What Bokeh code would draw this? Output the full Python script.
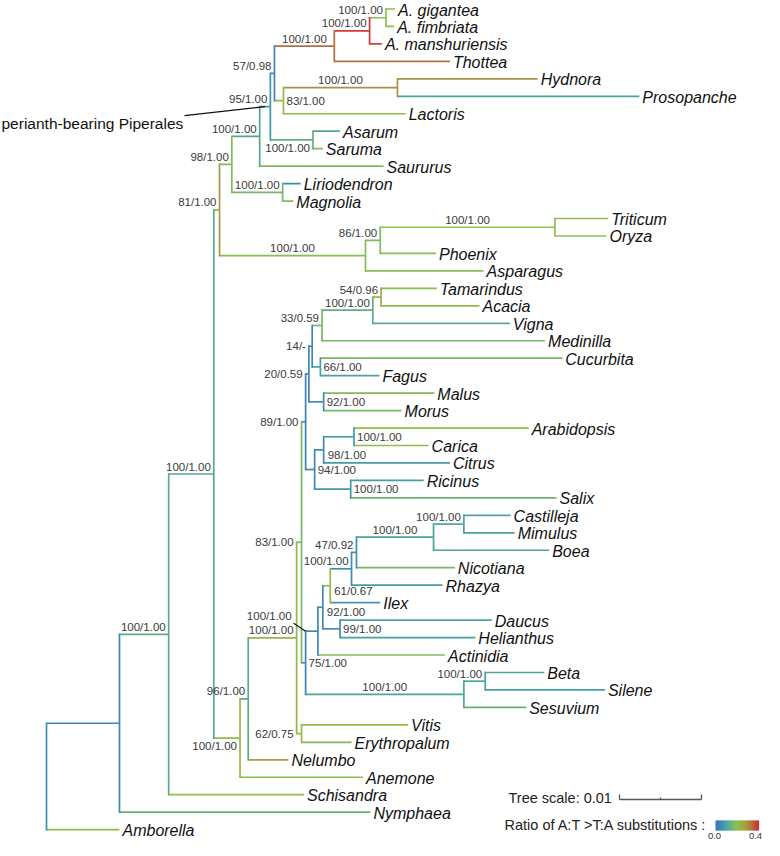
import numpy as np
from bokeh.plotting import figure
from bokeh.models import Range1d, ColumnDataSource
from bokeh.transform import linear_cmap
from bokeh.core.properties import value
from bokeh.embed import file_html
from bokeh.resources import INLINE

# ---------------- data: tree topology (pre-order, upper child first) ----------------
node = [
    "root", "nA", "nB", "nC", "nD", "nF", "nG", "nH", "nI", "nJ", "nK", "nL",
    "A. gigantea", "A. fimbriata", "A. manshuriensis", "Thottea",
    "nM", "nHyd", "Hydnora", "Prosopanche", "Lactoris",
    "nAS", "Asarum", "Saruma", "Saururus",
    "nMag", "Liriodendron", "Magnolia",
    "nN", "nO", "nP", "Triticum", "Oryza", "Phoenix", "Asparagus",
    "nE", "nQ", "nR", "nS", "nX", "nBB", "nZ", "nY", "nHH", "nII", "Tamarindus", "Acacia", "Vigna", "Medinilla",
    "nAA", "Cucurbita", "Fagus",
    "nCC", "Malus", "Morus",
    "nDD", "nEE", "nFF", "Arabidopsis", "Carica", "Citrus",
    "nGG", "Ricinus", "Salix",
    "nU", "nV", "nW", "nJJ", "nKK", "nLL", "nMM", "nNN", "Castilleja", "Mimulus", "Boea", "Nicotiana", "Rhazya", "Ilex",
    "nOO", "Daucus", "Helianthus", "Actinidia",
    "nPP", "nQQ", "Beta", "Silene", "Sesuvium",
    "nT", "Vitis", "Erythropalum",
    "Nelumbo", "Anemone", "Schisandra", "Nymphaea", "Amborella"]

parent = [
    None, "root", "nA", "nB", "nC", "nD", "nF", "nG", "nH", "nI", "nJ", "nK",
    "nL", "nL", "nK", "nJ",
    "nI", "nM", "nHyd", "nHyd", "nM",
    "nH", "nAS", "nAS", "nG",
    "nF", "nMag", "nMag",
    "nD", "nN", "nO", "nP", "nP", "nO", "nN",
    "nC", "nE", "nQ", "nR", "nS", "nX", "nBB", "nZ", "nY", "nHH", "nII", "nII", "nHH", "nY",
    "nZ", "nAA", "nAA",
    "nBB", "nCC", "nCC",
    "nX", "nDD", "nEE", "nFF", "nFF", "nEE",
    "nDD", "nGG", "nGG",
    "nS", "nU", "nV", "nW", "nJJ", "nKK", "nLL", "nMM", "nNN", "nNN", "nMM", "nLL", "nKK", "nJJ",
    "nW", "nOO", "nOO", "nV",
    "nU", "nPP", "nQQ", "nQQ", "nPP",
    "nR", "nT", "nT",
    "nQ", "nE", "nB", "nA", "root"]

# branch lengths (substitutions per site)
length = [
    0.0, 0.0089, 0.0060, 0.0055, 0.0007, 0.0015, 0.0034, 0.0013, 0.0005, 0.0073, 0.0043, 0.0020,
    0.0011, 0.0010, 0.0015, 0.0141,
    0.0011, 0.0139, 0.0171, 0.0295, 0.0149,
    0.0052, 0.0033, 0.0012, 0.0151,
    0.0062, 0.0022, 0.0013,
    0.0178, 0.0018, 0.0213, 0.0065, 0.0063, 0.0068, 0.0144,
    0.0032, 0.0010, 0.0059, 0.0006, 0.0005, 0.0004, 0.0004, 0.0012, 0.0062, 0.0010, 0.0068, 0.0120, 0.0167, 0.0272,
    0.0010, 0.0295, 0.0072,
    0.0018, 0.0135, 0.0095,
    0.0011, 0.0011, 0.0037, 0.0213, 0.0091, 0.0154,
    0.0044, 0.0089, 0.0251,
    0.0005, 0.0015, 0.0006, 0.0009, 0.0026, 0.0006, 0.0094, 0.0037, 0.0057, 0.0062, 0.0141, 0.0120, 0.0111, 0.0061,
    0.0021, 0.0185, 0.0165, 0.0155,
    0.0193, 0.0026, 0.0072, 0.0146, 0.0076,
    0.0006, 0.0130, 0.0061,
    0.0049, 0.0150, 0.0165, 0.0306, 0.0089]

# bootstrap / posterior support
support = [
    "", "", "100/1.00", "100/1.00", "81/1.00", "98/1.00", "100/1.00", "95/1.00", "57/0.98", "100/1.00", "100/1.00", "100/1.00",
    "", "", "", "",
    "83/1.00", "100/1.00", "", "", "",
    "100/1.00", "", "", "",
    "100/1.00", "", "",
    "100/1.00", "86/1.00", "100/1.00", "", "", "", "",
    "100/1.00", "96/1.00", "100/1.00", "83/1.00", "89/1.00", "20/0.59", "14/-", "33/0.59", "100/1.00", "54/0.96", "", "", "", "",
    "66/1.00", "", "",
    "92/1.00", "", "",
    "94/1.00", "98/1.00", "100/1.00", "", "", "",
    "100/1.00", "", "",
    "75/1.00", "100/1.00", "92/1.00", "61/0.67", "100/1.00", "47/0.92", "100/1.00", "100/1.00", "", "", "", "", "", "",
    "99/1.00", "", "", "",
    "100/1.00", "100/1.00", "", "", "",
    "62/0.75", "", "",
    "", "", "", "", ""]

# ratio of A:T > T:A substitutions per branch
ratio = [
    0.06, 0.04, 0.13, 0.12, 0.29, 0.18, 0.12, 0.08, 0.04, 0.34, 0.39, 0.20,
    0.19, 0.20, 0.38, 0.34,
    0.22, 0.30, 0.30, 0.11, 0.21,
    0.14, 0.12, 0.19, 0.18,
    0.17, 0.05, 0.19,
    0.19, 0.18, 0.20, 0.20, 0.20, 0.19, 0.19,
    0.22, 0.13, 0.23, 0.17, 0.03, 0.04, 0.04, 0.17, 0.14, 0.25, 0.19, 0.22, 0.13, 0.17,
    0.10, 0.17, 0.11,
    0.05, 0.18, 0.17,
    0.04, 0.05, 0.10, 0.21, 0.21, 0.09,
    0.08, 0.10, 0.16,
    0.03, 0.04, 0.05, 0.21, 0.05, 0.06, 0.11, 0.11, 0.11, 0.11, 0.11, 0.17, 0.09, 0.08,
    0.05, 0.11, 0.10, 0.18,
    0.11, 0.11, 0.11, 0.10, 0.15,
    0.22, 0.22, 0.18,
    0.28, 0.21, 0.21, 0.15, 0.22]

ratio_ticks = ["0.0", "0.4"]
scale_length = 0.01

# placement style of support labels (a: above branch, b: below, r: right of node,
# rb: right-below, l: left of node, p: with pointer line)
label_style = {
    "nB": "a", "nC": "a", "nD": "a", "nF": "a", "nG": "a", "nH": "a", "nI": "a", "nJ": "a",
    "nK": "a", "nL": "a", "nM": "r", "nHyd": "a", "nAS": "b", "nMag": "a", "nN": "a", "nO": "a",
    "nP": "a", "nE": "b", "nQ": "a", "nR": "a", "nS": "l", "nX": "l", "nBB": "l", "nZ": "l",
    "nY": "a", "nHH": "a", "nII": "a", "nAA": "r", "nCC": "r", "nDD": "r", "nEE": "rb", "nFF": "r",
    "nGG": "r", "nU": "r", "nV": "p", "nW": "rb", "nJJ": "rb", "nKK": "a", "nLL": "a", "nMM": "a",
    "nNN": "a", "nOO": "r", "nPP": "a", "nQQ": "a", "nT": "l"}

assert len(node) == len(parent) == len(length) == len(support) == len(ratio)

# ---------------- geometry helpers ----------------
W_FIG, H_FIG = 764, 840
SCALE = 8200.0   # px per substitution unit
ROOT_PX = 46.0
Y0, DY = 8.5, 17.46


def dx(px):
    return (px - ROOT_PX) / SCALE


def dy(py):
    return (py - Y0) / DY


def PX(x):
    return ROOT_PX + x * SCALE


def PY(y):
    return Y0 + y * DY


# ---------------- layout ----------------
xs, ys, kids = {}, {}, {n: [] for n in node}
for n, par, L in zip(node, parent, length):
    xs[n] = 0.0 if par is None else xs[par] + L
    if par is not None:
        kids[par].append(n)
leaves = [n for n in node if not kids[n]]
for i, n in enumerate(leaves):
    ys[n] = float(i)
for n in reversed(node):
    if kids[n]:
        ys[n] = (ys[kids[n][0]] + ys[kids[n][-1]]) / 2.0
par_of = dict(zip(node, parent))

# palette
stops = [(0.00, (59, 115, 194)), (0.10, (69, 160, 165)), (0.20, (141, 192, 77)),
         (0.27, (165, 165, 68)), (0.32, (171, 132, 67)), (0.40, (204, 51, 51))]
sv = np.array([s[0] for s in stops])
palette = []
for t in np.linspace(0, 0.4, 256):
    rgb = [int(round(np.interp(t, sv, [s[1][k] for s in stops]))) for k in range(3)]
    palette.append("#%02x%02x%02x" % tuple(rgb))
cmap = linear_cmap("ratio", palette, 0.0, 0.4)

h = dict(x0=[], y0=[], x1=[], y1=[], ratio=[])
v = dict(x0=[], y0=[], x1=[], y1=[], ratio=[])
for n, par, r in zip(node, parent, ratio):
    if par is not None:
        h["x0"].append(xs[par]); h["x1"].append(xs[n])
        h["y0"].append(ys[n]); h["y1"].append(ys[n]); h["ratio"].append(r)
    if kids[n]:
        v["x0"].append(xs[n]); v["x1"].append(xs[n])
        v["y0"].append(ys[kids[n][0]]); v["y1"].append(ys[kids[n][-1]]); v["ratio"].append(r)

p = figure(width=W_FIG, height=H_FIG, output_backend="svg", toolbar_location=None,
           x_range=Range1d(dx(0), dx(W_FIG)), y_range=Range1d(dy(H_FIG), dy(0)),
           x_axis_location=None, y_axis_location=None, min_border=0)
p.grid.visible = False
p.outline_line_color = None
p.background_fill_color = "white"

p.segment("x0", "y0", "x1", "y1", source=ColumnDataSource(h), line_color=cmap, line_width=1.7)
p.segment("x0", "y0", "x1", "y1", source=ColumnDataSource(v), line_color=cmap, line_width=1.7,
          line_cap="square")

FONT = value("Liberation Sans")

# leaf names
p.text(x=[xs[n] for n in leaves], y=[ys[n] for n in leaves], text=leaves, x_offset=3, y_offset=1,
       text_font=FONT, text_font_style="italic", text_font_size="16px",
       text_baseline="middle", text_align="left", text_color="#111111")

# support labels
CW = {"/": 0.278, ".": 0.278, "-": 0.333}
FS = 11.5
groups = {"left": ([], [], []), "center": ([], [], []), "right": ([], [], [])}
ptr = dict(x0=[], y0=[], x1=[], y1=[])
for n, s in zip(node, support):
    if not s:
        continue
    st = label_style[n]
    w = FS * sum(CW.get(c, 0.556) for c in s)
    pxn, pyn = PX(xs[n]), PY(ys[n])
    pxp = PX(xs[par_of[n]])
    if st in ("a", "b"):
        c = (pxn + pxp) / 2.0
        yy = pyn - 7.5 if st == "a" else pyn + 8.0
        if c + w / 2.0 > pxn - 3:
            g, xx = "right", pxn - 3
        else:
            g, xx = "center", c
    elif st == "r":
        g, xx, yy = "left", pxn + 3, pyn
    elif st == "rb":
        g, xx, yy = "left", pxn + 4, pyn + 5
    elif st == "l":
        g, xx, yy = "right", pxp - 3, pyn
    else:  # pointer
        g, xx, yy = "right", pxp - 14, pyn - 15
        ptr["x0"].append(dx(pxp - 12)); ptr["y0"].append(dy(pyn - 8))
        ptr["x1"].append(dx(pxp)); ptr["y1"].append(dy(pyn))
    groups[g][0].append(dx(xx)); groups[g][1].append(dy(yy)); groups[g][2].append(s)

for align, (gx, gy, gt) in groups.items():
    p.text(x=gx, y=gy, text=gt, text_font=FONT, text_font_size="11.5px",
           text_baseline="middle", text_align=align, text_color="#3a3a3a")

# pointer for perianth-bearing Piperales
hx, hy, gx_ = PX(xs["nH"]), PY(ys["nH"]), PX(xs["nG"])
ptr["x0"].append(dx(184)); ptr["y0"].append(dy(hy + 9))
ptr["x1"].append(dx((hx + gx_) / 2.0)); ptr["y1"].append(dy(hy))
p.segment("x0", "y0", "x1", "y1", source=ColumnDataSource(ptr), line_color="#111111", line_width=1.2)
p.text(x=[dx(1)], y=[dy(hy + 17)], text=["perianth-bearing Piperales"], text_font=FONT,
       text_font_size="15.5px", text_baseline="middle", text_align="left", text_color="#111111")

# tree scale
sx0 = dx(619)
sy = dy(799)
p.text(x=[dx(508)], y=[dy(797)], text=["Tree scale: %s" % scale_length], text_font=FONT,
       text_font_size="14.5px", text_baseline="middle", text_align="left", text_color="#222222")
p.segment(x0=[sx0, sx0, sx0 + scale_length, sx0 + scale_length / 2],
          y0=[sy, sy, sy, sy],
          x1=[sx0 + scale_length, sx0, sx0 + scale_length, sx0 + scale_length / 2],
          y1=[sy, dy(794), dy(794), dy(797)],
          line_color="#555555", line_width=1.3)

# colour legend
p.text(x=[dx(504)], y=[dy(824)], text=["Ratio of A:T >T:A substitutions :"], text_font=FONT,
       text_font_size="14.5px", text_baseline="middle", text_align="left", text_color="#222222")
nb = 44
cb_left, cb_right = 715.0, 758.0
edges = np.linspace(cb_left, cb_right, nb + 1)
cb_src = ColumnDataSource(dict(left=[dx(e) for e in edges[:-1]],
                               right=[dx(e + 0.6) for e in edges[1:]],
                               ratio=list(np.linspace(0.0, 0.4, nb))))
p.quad(left="left", right="right", bottom=dy(830), top=dy(820), source=cb_src,
       fill_color=cmap, line_color=None)
p.text(x=[dx(cb_left - 1), dx(cb_right - 3)], y=[dy(835), dy(835)], text=ratio_ticks, text_font=FONT,
       text_font_size="9.5px", text_baseline="middle", text_align="center", text_color="#333333")

open("out.html", "w").write(file_html(p, INLINE))
